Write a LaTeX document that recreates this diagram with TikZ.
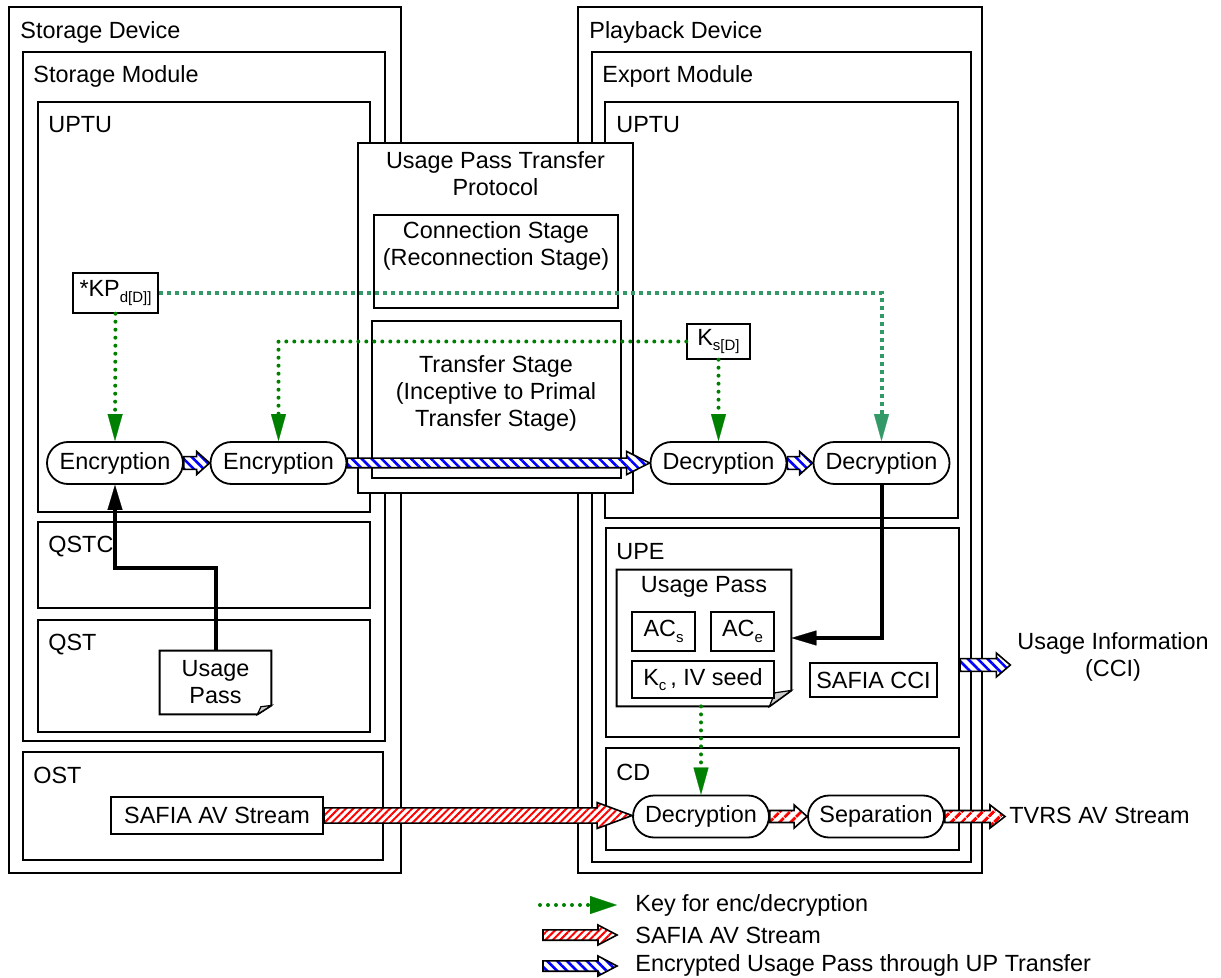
\documentclass[tikz,border=0pt]{standalone}
\usepackage{fontspec}
\setmainfont{Liberation Sans}
\usetikzlibrary{shapes.misc, arrows.meta, patterns.meta, calc}

\definecolor{keygreen}{RGB}{0,128,0}
\definecolor{keyteal}{RGB}{51,153,102}

\newcommand{\lowtext}[1]{\raisebox{-0.45ex}{\fontsize{7.5}{8}\selectfont #1}}

% block arrow: [style]{from}{to}{shaft half}{head half}{head length}, sizes in pt
\newcommand{\fatarrow}[6][]{%
  \path[#1] let \p1=(#2), \p2=(#3) in
    (\x1,\y1+#4pt) -- (\x2-#6pt,\y1+#4pt) -- (\x2-#6pt,\y1+#5pt) -- (\x2,\y1)
    -- (\x2-#6pt,\y1-#5pt) -- (\x2-#6pt,\y1-#4pt) -- (\x1,\y1-#4pt) -- cycle;}

% sheet with a folded corner round a node: {node}{fold x}{fold y}
\newcommand{\docshape}[3]{%
  \draw[fill=white, line width=1pt] (#1.north west) -- (#1.north east)
    -- ([yshift=#3]#1.south east) -- ([xshift=-#2]#1.south east) -- (#1.south west) -- cycle;
  \draw[fill=black!20, line width=0.6pt] ([yshift=#3]#1.south east)
    -- ([xshift=-#2]#1.south east) -- ([xshift=-0.75*#2, yshift=0.85*#3]#1.south east) -- cycle;}

\tikzset{
  frame/.style={draw, line width=0.7pt},
  tag/.style={anchor=west, inner sep=0pt},
  stagebox/.style={draw, line width=1pt},
  proc/.style={draw, fill=white, rounded rectangle, line width=0.9pt,
    minimum width=68pt, minimum height=21pt, inner sep=0pt},
  keybox/.style={draw, fill=white, line width=0.7pt, inner sep=0pt},
  keyline/.style={draw=keygreen, line width=2pt, line cap=round,
    dash pattern=on 0pt off 4pt,
    -{Triangle[length=13.5pt, width=7.5pt, line width=0.1pt, fill=keygreen]}},
  keylineB/.style={draw=keyteal, line width=2pt, dash pattern=on 2pt off 2pt,
    -{Triangle[length=13.5pt, width=7.5pt, line width=0.1pt, fill=keyteal]}},
  flow/.style={line width=2pt, -{Triangle[length=12.5pt, width=7.5pt, line width=0.1pt]}},
  upflow/.style={draw, line width=0.8pt, preaction={fill=white},
    pattern={Lines[angle=-45, distance=3.5pt, line width=1.3pt]}, pattern color=blue},
  avflow/.style={draw, line width=0.8pt, preaction={fill=white},
    pattern={Lines[angle=45, distance=2.6pt, line width=1pt]}, pattern color=red},
  tvflow/.style={draw, line width=0.8pt, preaction={fill=white},
    pattern={Lines[angle=45, distance=4pt, line width=1.6pt]}, pattern color=red}
}

\begin{document}
\begin{tikzpicture}[x=0.5pt, y=-0.5pt, every node/.style={font=\fontsize{11.7}{13.5}\selectfont}]
  \useasboundingbox (0,0) rectangle (1221,978);

  % storage side
  \draw[frame] (9,7) rectangle (401,873);
  \node[tag] at (20,32) {Storage Device};
  \draw[frame] (23,52) rectangle (385,741);
  \node[tag] at (33,76) {Storage Module};
  \draw[frame] (38,102) rectangle (370,512);
  \node[tag] at (48,125) {UPTU};
  \draw[frame] (38,522) rectangle (370,608);
  \node[tag] at (48,547) {QSTC};
  \draw[frame] (38,620) rectangle (370,732);
  \node[tag] at (48,645) {QST};
  \draw[frame] (23,752) rectangle (383,860);
  \node[tag] at (33,775) {OST};

  % playback side
  \draw[frame] (578,7) rectangle (982,873);
  \node[tag] at (589,32) {Playback Device};
  \draw[frame] (592,52) rectangle (971,862);
  \node[tag] at (602,76) {Export Module};
  \draw[frame] (605,102) rectangle (958,518);
  \node[tag] at (616,125) {UPTU};
  \draw[frame] (606,528) rectangle (959,737);
  \node[tag] at (616,552) {UPE};
  \draw[frame] (606,748) rectangle (959,850);
  \node[tag] at (616,772) {CD};

  % transfer protocol
  \draw[frame, fill=white] (358,143) rectangle (633,493);
  \node[align=center] (uptp) at (495.5,173.5) {Usage Pass Transfer\\Protocol};
  \draw[stagebox] (374,215) rectangle (618,308);
  \node[align=center] (conn) at (496,246) {Connection Stage\\(Reconnection Stage)};
  \draw[stagebox] (372,321) rectangle (621,478);
  \node[align=center] (xfer) at (496,393) {Transfer Stage\\(Inceptive to Primal\\Transfer Stage)};

  % keys
  \node[keybox, minimum width=42.5pt, minimum height=20pt] (kp) at (115.5,293) {*KP\lowtext{d[D]]}};
  \node[keybox, minimum width=31.5pt, minimum height=17.5pt] (ks) at (718.5,341.5) {K\lowtext{s[D]}};

  \node[proc] (enc1) at (115,463) {Encryption};
  \node[proc] (enc2) at (278.5,463) {Encryption};
  \node[proc] (dec1) at (718.5,463) {Decryption};
  \node[proc] (dec2) at (881.5,463) {Decryption};

  \draw[keylineB] (kp.east) -- (881.5,293) -- (dec2.north);
  \draw[keyline] (kp.south) -- (enc1.north);
  \draw[keyline] (ks.west) -| (enc2.north);
  \draw[keyline] (ks.south) -- (dec1.north);

  \fatarrow[upflow]{enc1.east}{enc2.west}{3.2}{5.8}{6.5}
  \fatarrow[upflow]{enc2.east}{dec1.west}{2.4}{5.8}{11.5}
  \fatarrow[upflow]{dec1.east}{dec2.west}{3.2}{5.8}{6.5}

  % usage pass in QST
  \node[inner sep=0pt, minimum width=55.5pt, minimum height=31.5pt] (upl) at (215.5,682.5) {};
  \docshape{upl}{7pt}{4.5pt}
  \node[align=center] at (215.5,682.5) {Usage\\Pass};
  \draw[flow] (upl.north) -- ++(0,-83) -| (enc1.south);

  % usage pass in UPE
  \node[inner sep=0pt, minimum width=87pt, minimum height=68pt] (upr) at (704,638) {};
  \docshape{upr}{11pt}{8pt}
  \node at (704,587) {Usage Pass};
  \node[keybox, minimum width=31.5pt, minimum height=19.5pt] (acs) at (663.5,631.5) {AC\lowtext{s}};
  \node[keybox, minimum width=31.5pt, minimum height=19.5pt] (ace) at (742.5,631.5) {AC\lowtext{e}};
  \node[keybox, minimum width=71pt, minimum height=18.5pt] (kc) at (703,679.5) {K\lowtext{c}\,, IV seed};
  \node[keybox, minimum width=63.5pt, minimum height=17pt] (cci) at (873.5,680) {SAFIA CCI};
  \draw[flow] (dec2.south) |- (upr.east);

  \coordinate (upeR) at (960,665);
  \node[align=center] (uinfo) at (1113,657) {Usage Information\\(CCI)};
  \fatarrow[upflow]{upeR}{uinfo.west}{3.2}{6}{7}

  % content stream
  \node[draw, line width=1.1pt, minimum width=106pt, minimum height=18.5pt, inner sep=0pt] (avs) at (217,815.5) {SAFIA AV Stream};
  \node[proc] (dec3) at (701,816.5) {Decryption};
  \node[proc] (sep) at (876,816.5) {Separation};
  \node[tag, inner sep=2pt] (tvrs) at (1005,815) {TVRS AV Stream};

  \draw[keyline] (dec3.north |- upr.south) -- (dec3.north);
  \fatarrow[avflow]{avs.east}{dec3.west}{3.8}{6.5}{17.5}
  \fatarrow[tvflow]{dec3.east}{sep.west}{3}{5.8}{6.5}
  \fatarrow[tvflow]{sep.east}{tvrs.west}{3}{5.8}{7.5}

  % legend
  \node[tag] (lgkey) at (635,905) {Key for enc/decryption};
  \node[tag] (lgav) at (635,935) {SAFIA AV Stream};
  \node[tag] (lgup) at (635,965) {Encrypted Usage Pass through UP Transfer};
  \coordinate (lk) at (540,905);
  \coordinate (la) at (543,935);
  \coordinate (lu) at (543,966);
  \draw[keyline, -{Triangle[length=13.5pt, width=9pt, line width=0.1pt, fill=keygreen]}] (lk) -- ([xshift=-9pt]lgkey.west);
  \fatarrow[avflow]{la}{[xshift=-9pt]lgav.west}{2.6}{5}{9.5}
  \fatarrow[upflow]{lu}{[xshift=-9pt]lgup.west}{2.6}{5}{9.5}

\end{tikzpicture}
\end{document}
